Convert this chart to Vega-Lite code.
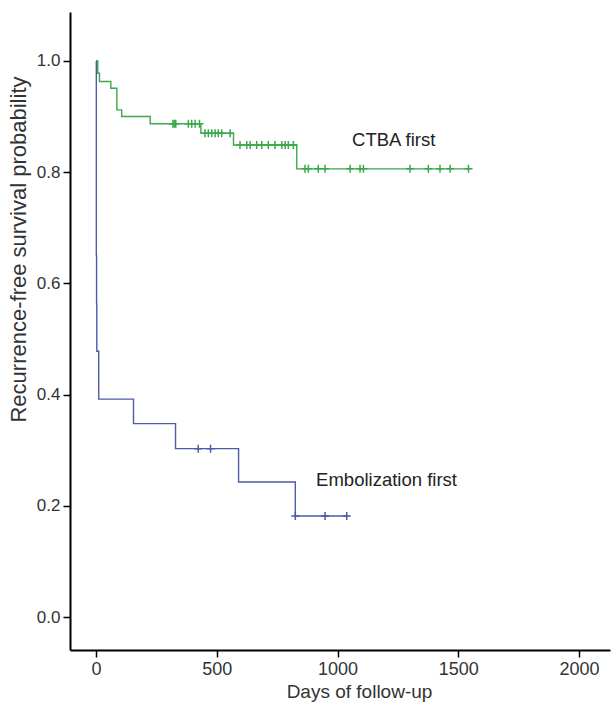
{
  "$schema": "https://vega.github.io/schema/vega-lite/v6.json",
  "width": 540,
  "height": 638,
  "autosize": {"type": "none"},
  "padding": {"left": 70, "top": 12, "right": 1, "bottom": 57},
  "background": "white",
  "config": {
    "view": {"stroke": null},
    "font": "Liberation Sans",
    "axis": {
      "grid": false,
      "domainColor": "black",
      "domainWidth": 2,
      "tickColor": "black",
      "tickWidth": 1.5,
      "tickSize": 7,
      "labelColor": "#333333",
      "titleColor": "#333333",
      "titleFontWeight": "normal"
    }
  },
  "datasets": {
    "curves": [
      {"group": "CTBA first", "day": 0, "surv": 1.0},
      {"group": "CTBA first", "day": 7, "surv": 0.978},
      {"group": "CTBA first", "day": 14, "surv": 0.963},
      {"group": "CTBA first", "day": 61, "surv": 0.951},
      {"group": "CTBA first", "day": 86, "surv": 0.912},
      {"group": "CTBA first", "day": 106, "surv": 0.9},
      {"group": "CTBA first", "day": 224, "surv": 0.887},
      {"group": "CTBA first", "day": 434, "surv": 0.87},
      {"group": "CTBA first", "day": 569, "surv": 0.849},
      {"group": "CTBA first", "day": 831, "surv": 0.806},
      {"group": "CTBA first", "day": 1550, "surv": 0.806},
      {"group": "Embolization first", "day": 0, "surv": 1.0},
      {"group": "Embolization first", "day": 1, "surv": 0.65},
      {"group": "Embolization first", "day": 2, "surv": 0.563},
      {"group": "Embolization first", "day": 3, "surv": 0.478},
      {"group": "Embolization first", "day": 11, "surv": 0.392},
      {"group": "Embolization first", "day": 155, "surv": 0.348},
      {"group": "Embolization first", "day": 329, "surv": 0.303},
      {"group": "Embolization first", "day": 590, "surv": 0.243},
      {"group": "Embolization first", "day": 825, "surv": 0.182},
      {"group": "Embolization first", "day": 1044, "surv": 0.182}
    ],
    "censors": [
      {"group": "CTBA first", "day": 318, "surv": 0.887},
      {"group": "CTBA first", "day": 324, "surv": 0.887},
      {"group": "CTBA first", "day": 330, "surv": 0.887},
      {"group": "CTBA first", "day": 382, "surv": 0.887},
      {"group": "CTBA first", "day": 396, "surv": 0.887},
      {"group": "CTBA first", "day": 410, "surv": 0.887},
      {"group": "CTBA first", "day": 428, "surv": 0.887},
      {"group": "CTBA first", "day": 451, "surv": 0.87},
      {"group": "CTBA first", "day": 465, "surv": 0.87},
      {"group": "CTBA first", "day": 479, "surv": 0.87},
      {"group": "CTBA first", "day": 493, "surv": 0.87},
      {"group": "CTBA first", "day": 506, "surv": 0.87},
      {"group": "CTBA first", "day": 520, "surv": 0.87},
      {"group": "CTBA first", "day": 555, "surv": 0.87},
      {"group": "CTBA first", "day": 596, "surv": 0.849},
      {"group": "CTBA first", "day": 624, "surv": 0.849},
      {"group": "CTBA first", "day": 638, "surv": 0.849},
      {"group": "CTBA first", "day": 665, "surv": 0.849},
      {"group": "CTBA first", "day": 686, "surv": 0.849},
      {"group": "CTBA first", "day": 713, "surv": 0.849},
      {"group": "CTBA first", "day": 741, "surv": 0.849},
      {"group": "CTBA first", "day": 769, "surv": 0.849},
      {"group": "CTBA first", "day": 783, "surv": 0.849},
      {"group": "CTBA first", "day": 796, "surv": 0.849},
      {"group": "CTBA first", "day": 817, "surv": 0.849},
      {"group": "CTBA first", "day": 865, "surv": 0.806},
      {"group": "CTBA first", "day": 879, "surv": 0.806},
      {"group": "CTBA first", "day": 920, "surv": 0.806},
      {"group": "CTBA first", "day": 948, "surv": 0.806},
      {"group": "CTBA first", "day": 1052, "surv": 0.806},
      {"group": "CTBA first", "day": 1093, "surv": 0.806},
      {"group": "CTBA first", "day": 1107, "surv": 0.806},
      {"group": "CTBA first", "day": 1300, "surv": 0.806},
      {"group": "CTBA first", "day": 1376, "surv": 0.806},
      {"group": "CTBA first", "day": 1424, "surv": 0.806},
      {"group": "CTBA first", "day": 1466, "surv": 0.806},
      {"group": "CTBA first", "day": 1542, "surv": 0.806},
      {"group": "Embolization first", "day": 423, "surv": 0.303},
      {"group": "Embolization first", "day": 474, "surv": 0.303},
      {"group": "Embolization first", "day": 825, "surv": 0.182},
      {"group": "Embolization first", "day": 948, "surv": 0.182},
      {"group": "Embolization first", "day": 1038, "surv": 0.182}
    ],
    "labels": [
      {"label": "CTBA first", "day": 1060, "surv": 0.858},
      {"label": "Embolization first", "day": 911, "surv": 0.246}
    ]
  },
  "layer": [
    {
      "data": {"name": "curves"},
      "mark": {"type": "line", "interpolate": "step-after", "strokeWidth": 1.4},
      "encoding": {
        "x": {
          "field": "day", "type": "quantitative",
          "scale": {"domain": [-108, 2128], "nice": false, "zero": false},
          "axis": {"values": [0, 500, 1000, 1500, 2000], "format": "d", "labelFontSize": 18, "title": "Days of follow-up", "titleFontSize": 19, "labelPadding": 3, "titleX": 289, "titleY": 41, "titleBaseline": "middle", "titleAlign": "center"}
        },
        "y": {
          "field": "surv", "type": "quantitative",
          "scale": {"domain": [-0.059, 1.088], "nice": false, "zero": false},
          "axis": {"values": [0, 0.2, 0.4, 0.6, 0.8, 1.0], "format": ".1f", "labelFontSize": 17, "labelPadding": 3, "title": "Recurrence-free survival probability", "titleFontSize": 22, "titleX": -52, "titleY": 237, "titleAngle": 270, "titleBaseline": "middle", "titleAlign": "center"}
        },
        "color": {
          "field": "group", "type": "nominal",
          "scale": {"domain": ["CTBA first", "Embolization first"], "range": ["#3aa84c", "#4f5aa8"]},
          "legend": null
        }
      }
    },
    {
      "data": {"name": "censors"},
      "mark": {"type": "point", "shape": "M-1,0L1,0M0,-1L0,1", "filled": false, "size": 64, "strokeWidth": 1.5, "opacity": 1},
      "encoding": {
        "x": {"field": "day", "type": "quantitative"},
        "y": {"field": "surv", "type": "quantitative"},
        "color": {"field": "group", "type": "nominal", "scale": {"domain": ["CTBA first", "Embolization first"], "range": ["#2a9a3c", "#3f4a98"]}, "legend": null}
      }
    },
    {
      "data": {"name": "labels"},
      "mark": {"type": "text", "align": "left", "baseline": "middle", "fontSize": 18.5, "color": "#222222"},
      "encoding": {
        "x": {"field": "day", "type": "quantitative"},
        "y": {"field": "surv", "type": "quantitative"},
        "text": {"field": "label"}
      }
    }
  ]
}
